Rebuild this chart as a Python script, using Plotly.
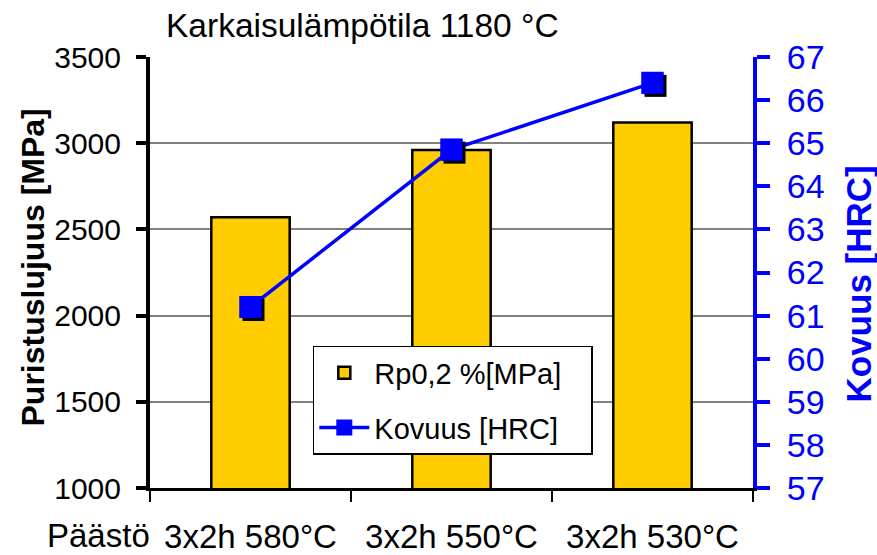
import plotly.graph_objects as go

categories = ["3x2h 580°C", "3x2h 550°C", "3x2h 530°C"]
rp02_mpa = [2570, 2960, 3120]
hardness_hrc = [61.2, 64.85, 66.4]

title_text = "Karkaisulämpötila 1180 °C"
left_title = "Puristuslujuus [MPa]"
right_title = "Kovuus [HRC]"
prefix_label = "Päästö"
bar_name = "Rp0,2 %[MPa]\u00a0\u00a0\u00a0"
line_name = "Kovuus [HRC]"

FONT = "Liberation Sans, Arial, sans-serif"
BLUE = "#0000FF"

n = len(categories)
boundaries = [i - 0.5 for i in range(n + 1)]
x_range = [-0.5, n - 0.5]
hrc_range = [57, 67]

# plot-area size in px (figure minus margins) -> used for a 3px drop shadow offset
PLOT_W, PLOT_H = 877 - 150 - 124, 555 - 57 - 67
SHADOW_PX = 3
dx = SHADOW_PX * (x_range[1] - x_range[0]) / PLOT_W
dy = SHADOW_PX * (hrc_range[1] - hrc_range[0]) / PLOT_H

fig = go.Figure()
fig.add_trace(go.Bar(
    x=categories, y=rp02_mpa, name=bar_name, width=0.39,
    marker=dict(color="#FFCC00", line=dict(color="black", width=2.5)),
    xaxis="x", yaxis="y", legendgroup="a",
))
fig.add_trace(go.Scatter(
    x=categories, y=hardness_hrc, name=line_name, mode="lines+markers",
    line=dict(color=BLUE, width=3.5),
    marker=dict(symbol="square", size=22, color=BLUE, line=dict(color=BLUE, width=0)),
    xaxis="x", yaxis="y2", legendgroup="b",
))
# drop shadow of the markers
fig.add_trace(go.Scatter(
    x=categories, y=hardness_hrc, mode="markers", showlegend=False, hoverinfo="skip",
    marker=dict(symbol="square", size=22, color="black", line=dict(width=0)),
    xaxis="x3", yaxis="y5",
))
# markers on top of shadow
fig.add_trace(go.Scatter(
    x=categories, y=hardness_hrc, mode="markers", showlegend=False,
    marker=dict(symbol="square", size=22, color=BLUE, line=dict(width=0)),
    xaxis="x4", yaxis="y6",
))

hidden = dict(visible=False, showgrid=False, zeroline=False, automargin=False)

fig.update_layout(
    width=877, height=555,
    margin=dict(l=150, r=124, t=57, b=67, autoexpand=False),
    paper_bgcolor="white", plot_bgcolor="rgba(0,0,0,0)",
    font=dict(family=FONT, color="black"),
    showlegend=True,
    legend=dict(
        x=0.27, y=0.3295, xanchor="left", yanchor="top",
        bgcolor="white", bordercolor="black", borderwidth=1.5,
        font=dict(size=29, family=FONT), tracegroupgap=14, itemwidth=50,
    ),
    bargap=0.61,
    xaxis=dict(
        type="category", range=x_range, tickson="boundaries", automargin=False,
        ticks="outside", ticklen=11, tickwidth=2, tickcolor="black",
        showline=True, linewidth=3, linecolor="black", showgrid=False,
        tickfont=dict(size=33, family=FONT), ticklabelstandoff=17,
    ),
    xaxis2=dict(
        overlaying="x", anchor="y", range=x_range, automargin=False,
        tickvals=boundaries, ticks="inside", ticklen=11, tickwidth=2, tickcolor="black",
        showticklabels=False, showline=False, showgrid=False, zeroline=False,
    ),
    xaxis3=dict(type="category", anchor="y5", range=[x_range[0] - dx, x_range[1] - dx], **hidden),
    yaxis5=dict(anchor="x3", range=[hrc_range[0] + dy, hrc_range[1] + dy], **hidden),
    xaxis4=dict(type="category", anchor="y6", range=x_range, **hidden),
    yaxis6=dict(anchor="x4", range=hrc_range, **hidden),
    yaxis=dict(
        range=[1000, 3500], dtick=500, tick0=1000, automargin=False,
        ticks="outside", ticklen=10, tickwidth=4, tickcolor="black",
        showline=True, linewidth=4, linecolor="black",
        showgrid=True, gridcolor="#808080", gridwidth=1.5, zeroline=False,
        tickfont=dict(size=30, family=FONT), ticklabelstandoff=9,
    ),
    yaxis3=dict(
        overlaying="y", anchor="x", side="left", range=[1000, 3500], dtick=500, tick0=1000,
        automargin=False,
        ticks="inside", ticklen=10, tickwidth=4, tickcolor="black",
        showticklabels=False, showline=False, showgrid=False, zeroline=False,
    ),
    yaxis2=dict(
        overlaying="y", side="right", anchor="x", range=hrc_range, dtick=1, tick0=57,
        automargin=False,
        ticks="outside", ticklen=13, tickwidth=4, tickcolor=BLUE,
        showline=True, linewidth=4, linecolor=BLUE, showgrid=False, zeroline=False,
        tickfont=dict(size=34, family=FONT, color=BLUE), ticklabelstandoff=10,
    ),
    yaxis4=dict(
        overlaying="y", side="right", anchor="x", range=hrc_range, dtick=1, tick0=57,
        automargin=False,
        ticks="inside", ticklen=13, tickwidth=4, tickcolor=BLUE,
        showticklabels=False, showline=False, showgrid=False, zeroline=False,
    ),
    annotations=[
        dict(text=title_text, xref="paper", yref="paper", x=0.353, y=1.0, yshift=32,
             xanchor="center", yanchor="middle", showarrow=False,
             font=dict(size=33.5, family=FONT, color="black")),
        dict(text="<b>" + left_title + "</b>", xref="paper", yref="paper",
             x=0, xshift=-118, y=0.5, yshift=5, textangle=-90,
             xanchor="center", yanchor="middle", showarrow=False,
             font=dict(size=32, family=FONT, color="black")),
        dict(text="<b>" + right_title + "</b>", xref="paper", yref="paper",
             x=1, xshift=105, y=0.5, yshift=-12, textangle=-90,
             xanchor="center", yanchor="middle", showarrow=False,
             font=dict(size=35, family=FONT, color=BLUE)),
        dict(text=prefix_label, xref="paper", yref="paper",
             x=0, xshift=-52, y=0, yshift=-47,
             xanchor="center", yanchor="middle", showarrow=False,
             font=dict(size=33, family=FONT, color="black")),
    ],
)

fig.write_html("out.html", config={"displayModeBar": False},
               post_script="document.body.style.margin='0';document.body.style.overflow='hidden';")
